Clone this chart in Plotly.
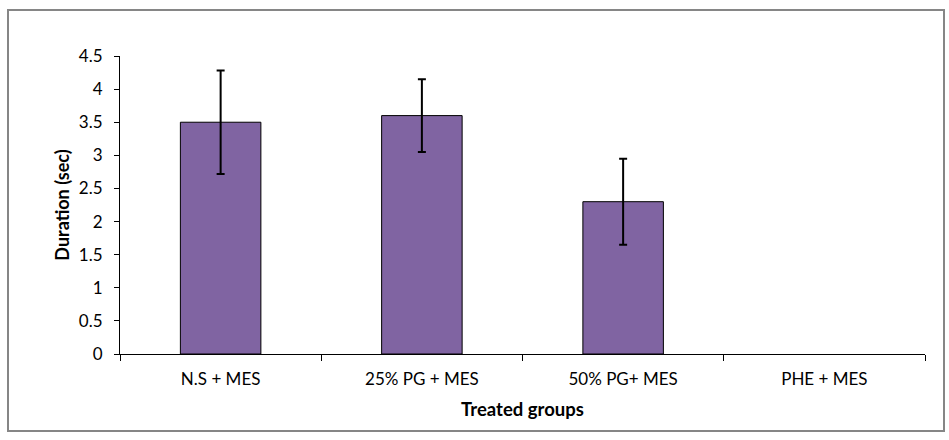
import plotly.graph_objects as go

categories = ["N.S + MES", "25% PG + MES", "50% PG+ MES", "PHE + MES"]
durations = [3.5, 3.6, 2.3, 0]
errors = [0.78, 0.55, 0.65, 0]
y_ticks = [0, 0.5, 1, 1.5, 2, 2.5, 3, 3.5, 4, 4.5]
y_tick_labels = ["0", "0.5", "1", "1.5", "2", "2.5", "3", "3.5", "4", "4.5"]

FONT = "Lato, Carlito, 'Open Sans', sans-serif"

W, H = 949, 440
L, R, T, B = 120, 24, 56, 86
pw, ph = W - L - R, H - T - B

def px_to_paper_x(px):
    return (px - L) / pw

def px_to_paper_y(py):
    return (H - B - py) / ph

# zero-height bars draw nothing in the reference
keep = [i for i, v in enumerate(durations) if v > 0]
bar_x = [categories[i] for i in keep]
bar_y = [durations[i] for i in keep]
bar_err = [errors[i] for i in keep]

fig = go.Figure()
fig.add_trace(go.Bar(
    x=bar_x,
    y=bar_y,
    width=0.4,
    marker=dict(color="#8064A2", line=dict(color="black", width=1)),
    error_y=dict(type="data", array=bar_err, visible=True,
                 color="black", thickness=2, width=4),
    hoverinfo="skip",
))

fig.update_layout(
    width=W, height=H,
    margin=dict(l=L, r=R, t=T, b=B),
    paper_bgcolor="white", plot_bgcolor="white",
    showlegend=False,
    font=dict(family=FONT, size=17, color="black"),
    xaxis=dict(
        type="category",
        categoryorder="array", categoryarray=categories,
        range=[-0.5, len(categories) - 0.5],
        tickvals=categories, ticktext=categories,
        showline=True, linecolor="black", linewidth=1,
        ticks="outside", ticklen=6, tickcolor="black", tickson="boundaries",
        showgrid=False,
        tickfont=dict(family=FONT, size=17, color="black"),
        ticklabelstandoff=10,
        title=dict(text="<b>Treated groups</b>", font=dict(family=FONT, size=18.5, color="black"), standoff=14),
    ),
    yaxis=dict(
        range=[0, 4.5],
        tickvals=y_ticks, ticktext=y_tick_labels,
        showline=True, linecolor="black", linewidth=1,
        ticks="outside", ticklen=5, tickcolor="black",
        showgrid=False, zeroline=False,
        tickfont=dict(family=FONT, size=17, color="black"),
        ticklabelstandoff=8,
        title=dict(text="<b>Duration (sec)</b>", font=dict(family=FONT, size=18, color="black"), standoff=4),
    ),
    shapes=[dict(
        type="rect", xref="paper", yref="paper",
        x0=px_to_paper_x(8), x1=px_to_paper_x(944),
        y0=px_to_paper_y(431), y1=px_to_paper_y(10),
        line=dict(color="#868686", width=2), fillcolor="rgba(0,0,0,0)",
        layer="below",
    )],
)

fig.write_html("out.html", config={"displayModeBar": False},
               post_script="document.body.style.margin='0';")
